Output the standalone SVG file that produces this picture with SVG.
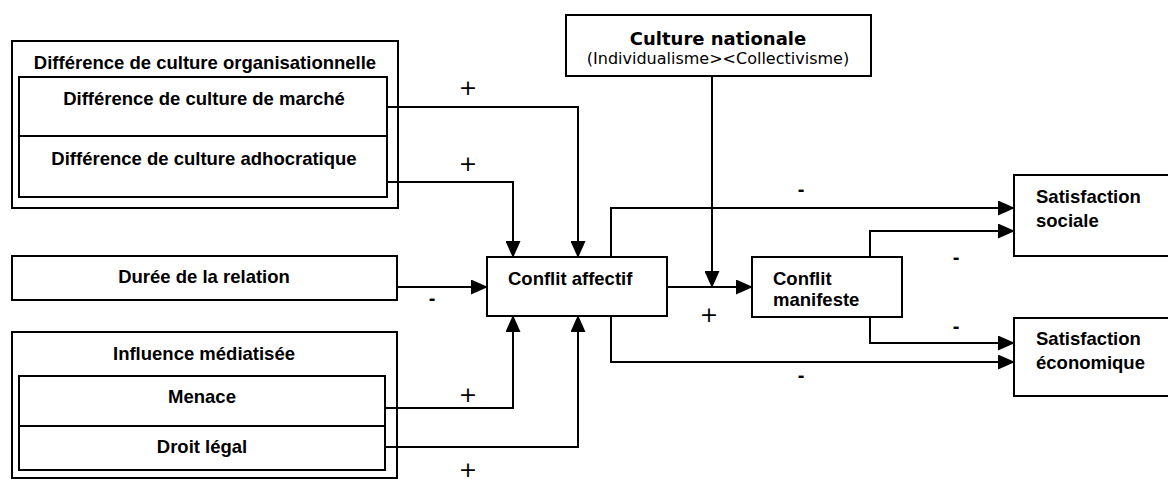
<svg xmlns="http://www.w3.org/2000/svg" width="1168" height="480" viewBox="0 0 1168 480">
<style>
.box{fill:#fff;stroke:#000;stroke-width:2}
.ln{fill:none;stroke:#000;stroke-width:2}
.t{font-family:"Liberation Sans",Arial,sans-serif;font-weight:bold;font-size:18.5px;fill:#000}
.c{text-anchor:middle}
.v{font-family:"DejaVu Sans",Verdana,sans-serif;fill:#000}
.plus{font-family:"DejaVu Sans",Verdana,sans-serif;font-size:22px;text-anchor:middle;fill:#000}
.minus{font-family:"Liberation Sans",Arial,sans-serif;font-weight:bold;font-size:20px;text-anchor:middle;fill:#000}
</style>
<defs>
<marker id="ah" markerUnits="userSpaceOnUse" markerWidth="17" markerHeight="15" viewBox="0 0 17 15" refX="14" refY="7.5" orient="auto">
<path d="M0,0 L17,7.5 L0,15 Z" fill="#000"/>
</marker>
</defs>
<rect width="1168" height="480" fill="#fff"/>

<g id="culture-org">
<rect class="box" x="12" y="41" width="386" height="167"/>
<text class="t c" x="205" y="69">Différence de culture organisationnelle</text>
<rect class="box" x="19" y="77" width="368" height="120"/>
<line class="ln" x1="19" y1="136" x2="387" y2="136"/>
<text class="t c" x="204" y="105">Différence de culture de marché</text>
<text class="t c" x="204" y="165">Différence de culture adhocratique</text>
</g>

<g id="duree">
<rect class="box" x="12" y="256" width="385" height="44"/>
<text class="t c" x="204" y="283">Durée de la relation</text>
</g>

<g id="influence">
<rect class="box" x="12" y="332" width="385" height="146"/>
<text class="t c" x="204" y="360">Influence médiatisée</text>
<rect class="box" x="19" y="376" width="366" height="94"/>
<line class="ln" x1="19" y1="426" x2="385" y2="426"/>
<text class="t c" x="202" y="403">Menace</text>
<text class="t c" x="202" y="453">Droit légal</text>
</g>

<g id="culture-nationale">
<rect class="box" x="566" y="15" width="305" height="61"/>
<text class="v c" x="718" y="45" font-size="18" font-weight="bold">Culture nationale</text>
<text class="v c" x="718" y="64" font-size="16">(Individualisme&gt;&lt;Collectivisme)</text>
</g>

<g id="conflit-affectif">
<rect class="box" x="487" y="257" width="180" height="59"/>
<text class="t" x="508" y="285">Conflit affectif</text>
</g>

<g id="conflit-manifeste">
<rect class="box" x="752" y="257" width="150" height="60"/>
<text class="t" x="773" y="285">Conflit</text>
<text class="t" x="773" y="306">manifeste</text>
</g>

<g id="satisfaction-sociale">
<rect class="box" x="1014" y="175" width="162" height="81"/>
<text class="t" x="1036" y="203">Satisfaction</text>
<text class="t" x="1036" y="227">sociale</text>
</g>

<g id="satisfaction-economique">
<rect class="box" x="1014" y="318" width="162" height="78"/>
<text class="t" x="1036" y="345">Satisfaction</text>
<text class="t" x="1036" y="369">économique</text>
</g>

<g id="connectors">
<path class="ln" d="M388,107 H578 V255" marker-end="url(#ah)"/>
<path class="ln" d="M388,182 H513 V255" marker-end="url(#ah)"/>
<path class="ln" d="M397,287 H485" marker-end="url(#ah)"/>
<path class="ln" d="M385,408 H513 V318" marker-end="url(#ah)"/>
<path class="ln" d="M385,447 H578 V318" marker-end="url(#ah)"/>
<path class="ln" d="M667,287 H750" marker-end="url(#ah)"/>
<path class="ln" d="M712,76 V285" marker-end="url(#ah)"/>
<path class="ln" d="M611,257 V208 H1012" marker-end="url(#ah)"/>
<path class="ln" d="M870,257 V231 H1012" marker-end="url(#ah)"/>
<path class="ln" d="M870,317 V343 H1012" marker-end="url(#ah)"/>
<path class="ln" d="M611,316 V362 H1012" marker-end="url(#ah)"/>
</g>

<g id="signs">
<text class="plus" x="468" y="95">+</text>
<text class="plus" x="468" y="171">+</text>
<text class="minus" x="432" y="305">-</text>
<text class="plus" x="468" y="402">+</text>
<text class="plus" x="468" y="477">+</text>
<text class="plus" x="709" y="322">+</text>
<text class="minus" x="801" y="196">-</text>
<text class="minus" x="801" y="382">-</text>
<text class="minus" x="956" y="264">-</text>
<text class="minus" x="956" y="333">-</text>
</g>
</svg>
